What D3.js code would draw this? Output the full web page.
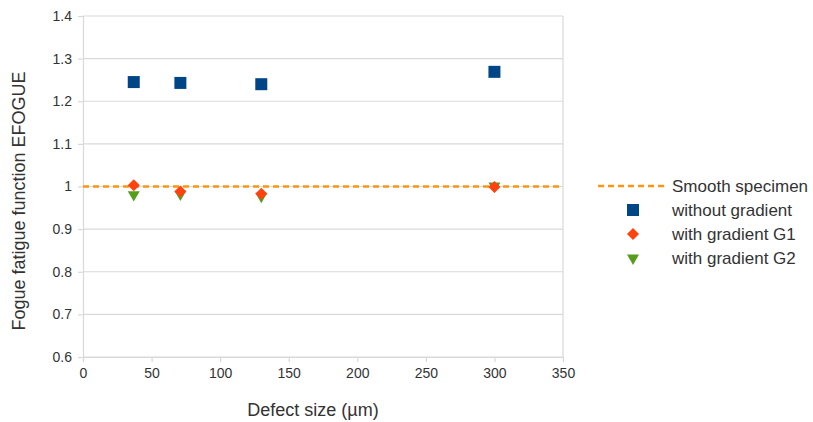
<!DOCTYPE html>
<html>
<head>
<meta charset="utf-8">
<script src="https://cdn.jsdelivr.net/npm/d3@7"></script>
<style>
  body { margin: 0; background: #fff; }
  text { font-family: "Liberation Sans", Arial, sans-serif; fill: #333; }
</style>
</head>
<body>
<script>
// defect sizes (µm)
const defectSizes = [37, 71, 130, 300];
const withoutGradient = [1.245, 1.243, 1.240, 1.269];
const gradientG1 = [1.003, 0.988, 0.983, 0.999];
const gradientG2 = [0.981, 0.982, 0.977, 1.001];
const smoothValue = 1;
const xTicks = [0, 50, 100, 150, 200, 250, 300, 350];
const yTicks = [0.6, 0.7, 0.8, 0.9, 1, 1.1, 1.2, 1.3, 1.4];
const legendLabels = ["Smooth specimen", "without gradient", "with gradient G1", "with gradient G2"];

const w = 813, h = 422;
const padL = 83, padR = 563, padT = 16, padB = 357;

const svg = d3.select("body").append("svg").attr("width", w).attr("height", h);

const x = d3.scaleLinear().domain([0, 350]).range([padL, padR]);
const y = d3.scaleLinear().domain([0.6, 1.4]).range([padB, padT]);

// horizontal grid
svg.append("g").selectAll("line").data(yTicks).enter().append("line")
  .attr("x1", padL).attr("x2", padR)
  .attr("y1", d => y(d)).attr("y2", d => y(d))
  .attr("stroke", "#d9d9d9").attr("stroke-width", 1.2);

// right border
svg.append("line").attr("x1", padR).attr("x2", padR).attr("y1", padT).attr("y2", padB)
  .attr("stroke", "#d9d9d9").attr("stroke-width", 1.2);

const xAxis = d3.axisBottom(x).tickValues(xTicks).tickSize(5).tickPadding(6).tickFormat(d3.format("d"));
const yAxis = d3.axisLeft(y).tickValues(yTicks).tickSize(5).tickPadding(6).tickFormat(d => d === 1 ? "1" : d3.format(".1f")(d));

const gx = svg.append("g").attr("transform", "translate(0," + padB + ")").call(xAxis);
const gy = svg.append("g").attr("transform", "translate(" + padL + ",0)").call(yAxis);
[gx, gy].forEach(g => {
  g.selectAll("path, line").attr("stroke", "#d9d9d9").attr("stroke-width", 1.2);
  g.selectAll("text").style("font-size", "14px").attr("fill", "#333");
});

// smooth specimen line
svg.append("line")
  .attr("x1", x(0)).attr("x2", x(350))
  .attr("y1", y(smoothValue)).attr("y2", y(smoothValue))
  .attr("stroke", "#ff950e").attr("stroke-width", 2.5).attr("stroke-dasharray", "6,4");

const sq = d3.symbol().type(d3.symbolSquare).size(144);
const dia = d3.symbol().type(d3.symbolSquare).size(72);
const tri = d3.symbol().type(d3.symbolTriangle).size(62);

function plot(vals, sym, color, rot) {
  svg.append("g").selectAll("path").data(vals).enter().append("path")
    .attr("d", sym)
    .attr("transform", (d, i) => "translate(" + x(defectSizes[i]) + "," + y(d) + ")" + (rot ? " rotate(" + rot + ")" : ""))
    .attr("fill", color);
}
plot(withoutGradient, sq, "#004586", 0);
plot(gradientG2, tri, "#579d1c", 180);
plot(gradientG1, dia, "#ff420e", 45);

// axis titles
svg.append("text").attr("x", 313).attr("y", 416)
  .attr("text-anchor", "middle").style("font-size", "18px").text("Defect size (µm)");
svg.append("text").attr("transform", "translate(25,201) rotate(-90)")
  .attr("text-anchor", "middle").style("font-size", "18px").text("Fogue fatigue function EFOGUE");

// legend
const lg = svg.append("g");
const ly = [186, 210, 234, 258];
lg.append("line").attr("x1", 598).attr("x2", 665).attr("y1", ly[0]).attr("y2", ly[0])
  .attr("stroke", "#ff950e").attr("stroke-width", 2.5).attr("stroke-dasharray", "6,4");
lg.append("path").attr("d", sq).attr("transform", "translate(633," + ly[1] + ")").attr("fill", "#004586");
lg.append("path").attr("d", dia).attr("transform", "translate(633," + ly[2] + ") rotate(45)").attr("fill", "#ff420e");
lg.append("path").attr("d", tri).attr("transform", "translate(633," + ly[3] + ") rotate(180)").attr("fill", "#579d1c");
lg.selectAll("text.lab").data(legendLabels).enter().append("text")
  .attr("x", 672).attr("y", (d, i) => ly[i] + 6)
  .style("font-size", "17px").text(d => d);
</script>
</body>
</html>
